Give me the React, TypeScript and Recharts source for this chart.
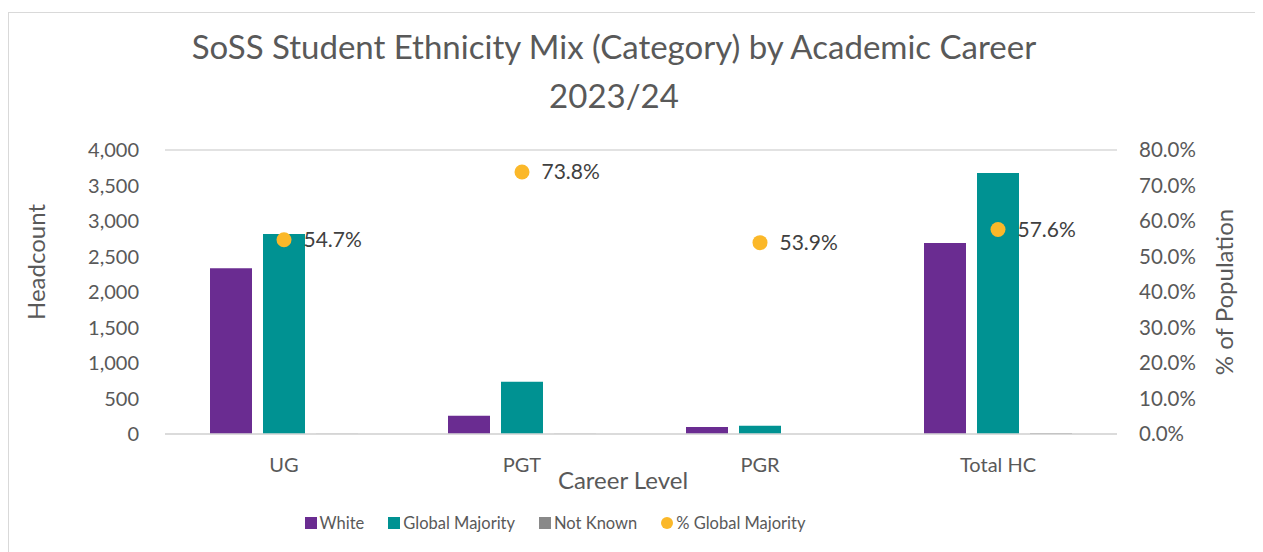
import React from "react";
import { ComposedChart, Bar, Scatter, XAxis, YAxis, CartesianGrid, LabelList, Label } from "recharts";

const categories = ["UG", "PGT", "PGR", "Total HC"];
const white = [2334, 258, 99, 2690];
const globalMajority = [2817, 737, 117, 3676];
const notKnown = [5, 4, 1, 15];
const pctGlobalMajority = [0.547, 0.738, 0.539, 0.576];
const leftTicks = [0, 500, 1000, 1500, 2000, 2500, 3000, 3500, 4000];
const rightTicks = [0, 0.1, 0.2, 0.3, 0.4, 0.5, 0.6, 0.7, 0.8];

const COLORS = { white: "#6A2C91", gm: "#009292", nk: "#898989", pct: "#FBB829" };
const FONT = "Lato, 'Open Sans', sans-serif";
const TXT = "#595959";

const data = categories.map((c, i) => ({
  cat: c,
  white: white[i],
  gm: globalMajority[i],
  nk: notKnown[i],
  pct: pctGlobalMajority[i],
}));

const legendItems = [
  { name: "White", color: COLORS.white, shape: "square" },
  { name: "Global Majority", color: COLORS.gm, shape: "square" },
  { name: "Not Known", color: COLORS.nk, shape: "square" },
  { name: "% Global Majority", color: COLORS.pct, shape: "circle" },
];

const fmtNum = (v: number) => v.toLocaleString("en-US");
const fmtPct = (v: number) => (v * 100).toFixed(1) + "%";

const titleStyle = { fontSize: 24, fill: TXT, fontFamily: FONT };

export default function App() {
  return (
    <div style={{ position: "relative", width: 1255, height: 544, fontFamily: FONT, background: "#fff" }}>
      <div style={{ position: "absolute", top: 4, left: 0, width: 1255, height: 540, borderTop: "1.5px solid #d9d9d9", borderLeft: "1.5px solid #d9d9d9" }} />
      <div style={{ position: "absolute", top: 14, left: 0, width: 1212, textAlign: "center", fontSize: 33, color: TXT, lineHeight: "49px" }}>
        SoSS Student Ethnicity Mix (Category) by Academic Career
        <br />
        2023/24
      </div>
      <div style={{ position: "absolute", left: 0, top: 0 }}>
        <ComposedChart
          width={1255}
          height={544}
          data={data}
          margin={{ top: 142, right: 56, bottom: 0, left: 77 }}
          barCategoryGap={45}
          barGap={11}
        >
          <CartesianGrid vertical={false} stroke="#d9d9d9" strokeWidth={1.5} />
          <XAxis
            dataKey="cat"
            tickLine={false}
            axisLine={{ stroke: "#d9d9d9", strokeWidth: 1.5 }}
            tick={{ fontSize: 20, fill: TXT, fontFamily: FONT }}
            tickMargin={18}
            height={118}
          >
            <Label
              content={() => (
                <text x={615} y={471} textAnchor="middle" dominantBaseline="central" style={titleStyle}>
                  Career Level
                </text>
              )}
            />
          </XAxis>
          <YAxis
            yAxisId="left"
            domain={[0, 4000]}
            ticks={leftTicks}
            tickFormatter={fmtNum}
            tickLine={false}
            axisLine={false}
            tick={{ fontSize: 20, fill: TXT, fontFamily: FONT }}
            tickMargin={20}
            width={80}
            interval={0}
          >
            <Label
              content={() => (
                <text x={27} y={254} textAnchor="middle" dominantBaseline="central" transform="rotate(-90 27 254)" style={titleStyle}>
                  Headcount
                </text>
              )}
            />
          </YAxis>
          <YAxis
            yAxisId="right"
            orientation="right"
            domain={[0, 0.8]}
            ticks={rightTicks}
            tickFormatter={fmtPct}
            tickLine={false}
            axisLine={false}
            tick={{ fontSize: 20.5, fill: TXT, fontFamily: FONT }}
            tickMargin={16}
            width={90}
            interval={0}
          >
            <Label
              content={() => (
                <text x={1215} y={284} textAnchor="middle" dominantBaseline="central" transform="rotate(-90 1215 284)" style={titleStyle}>
                  % of Population
                </text>
              )}
            />
          </YAxis>
          <Bar yAxisId="left" dataKey="white" name="White" fill={COLORS.white} isAnimationActive={false} />
          <Bar yAxisId="left" dataKey="gm" name="Global Majority" fill={COLORS.gm} isAnimationActive={false} />
          <Bar yAxisId="left" dataKey="nk" name="Not Known" fill={COLORS.nk} isAnimationActive={false} />
          <Scatter
            yAxisId="right"
            dataKey="pct"
            name="% Global Majority"
            fill={COLORS.pct}
            isAnimationActive={false}
            shape={(p: any) => <circle cx={p.cx} cy={p.cy} r={7.5} fill={COLORS.pct} />}
          >
            <LabelList dataKey="pct" position="right" offset={15} formatter={(v: any) => fmtPct(Number(v))} style={{ fontSize: 21, fill: "#404040", fontFamily: FONT }} />
          </Scatter>
        </ComposedChart>
      </div>
      <div style={{ position: "absolute", top: 503, left: 0, width: 1094, display: "flex", justifyContent: "center", gap: 24, fontSize: 16.5, lineHeight: "24px", color: TXT }}>
        {legendItems.map((it) => (
          <div key={it.name} style={{ display: "flex", alignItems: "center" }}>
            <span
              style={{
                display: "inline-block",
                width: 12,
                height: 12,
                background: it.color,
                borderRadius: it.shape === "circle" ? "50%" : 0,
                marginRight: 3,
              }}
            />
            <span>{it.name}</span>
          </div>
        ))}
      </div>
    </div>
  );
}
